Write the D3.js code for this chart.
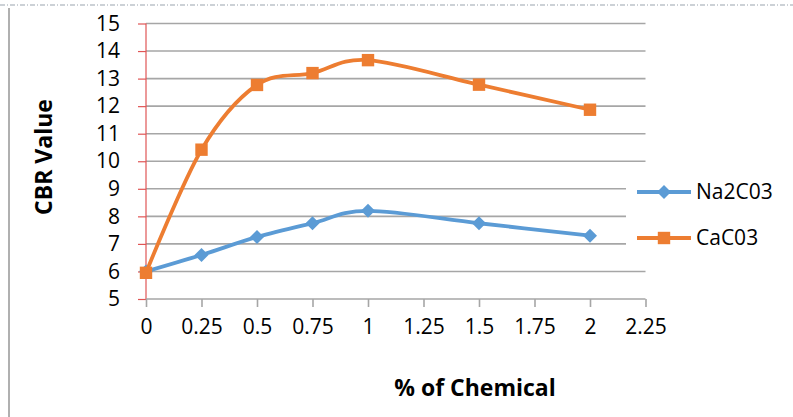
<!DOCTYPE html>
<html><head><meta charset="utf-8">
<script src="https://cdn.jsdelivr.net/npm/d3@7/dist/d3.min.js"></script>
<style>body{margin:0;background:#fff}svg{display:block}</style>
</head><body>
<svg id="c" width="793" height="417"></svg>
<script>
const xValues = [0, 0.25, 0.5, 0.75, 1, 1.5, 2];
const na2co3 = [6, 6.6, 7.25, 7.75, 8.2, 7.75, 7.3];
const caco3 = [5.95, 10.42, 12.77, 13.2, 13.67, 12.78, 11.87];
const seriesNames = ["Na2C03", "CaC03"];
const xTicks = [0, 0.25, 0.5, 0.75, 1, 1.25, 1.5, 1.75, 2, 2.25];
const yTicks = [5, 6, 7, 8, 9, 10, 11, 12, 13, 14, 15];
const xTitle = "% of Chemical";
const yTitle = "CBR Value";

const svg = d3.select("#c");
const font = "'Open Sans', 'Noto Sans', sans-serif";
const x = d3.scaleLinear().domain([0, 2.25]).range([146, 645.5]);
const y = d3.scaleLinear().domain([5, 15]).range([299, 23.5]);

// outer border
svg.append("line").attr("x1", 0).attr("x2", 793).attr("y1", 5).attr("y2", 5)
  .attr("stroke", "#9aa3ad").attr("stroke-width", 1.2).attr("stroke-dasharray", "5,2,1,2");
svg.append("line").attr("x1", 9).attr("x2", 9).attr("y1", 8).attr("y2", 417)
  .attr("stroke", "#b0b0b0").attr("stroke-width", 2);

// gridlines
svg.append("g").selectAll("line").data(yTicks.filter(d => d > 5)).join("line")
  .attr("x1", x(0)).attr("x2", x(2.25))
  .attr("y1", d => y(d)).attr("y2", d => y(d))
  .attr("stroke", "#a6a6a6").attr("stroke-width", 1.6);

// y axis
const ya = svg.append("g").attr("transform", `translate(${x(0)},0)`)
  .call(d3.axisLeft(y).tickValues(yTicks).tickSize(8).tickPadding(18).tickFormat(d3.format("d")));
ya.select(".domain").attr("stroke", "#e05555").attr("stroke-width", 1.2).attr("d", `M0,${y(15)}V${y(5)}`);
ya.selectAll(".tick line").attr("stroke", "#e05555").attr("stroke-width", 1.2);
ya.selectAll(".tick text").attr("font-family", font).attr("font-size", 21).attr("fill", "#000");

// x axis
const xa = svg.append("g").attr("transform", `translate(0,${y(5)})`)
  .call(d3.axisBottom(x).tickValues(xTicks).tickSize(8).tickPadding(12).tickFormat(d => String(d)));
xa.select(".domain").attr("stroke", "#a6a6a6").attr("stroke-width", 1.6).attr("d", `M${x(0)},0H${x(2.25)}`);
xa.selectAll(".tick line").attr("stroke", "#a6a6a6").attr("stroke-width", 1.6);
xa.selectAll(".tick text").attr("font-family", font).attr("font-size", 21).attr("fill", "#000");

// legend background (cuts gridlines)
svg.append("rect").attr("x", 626).attr("y", 172).attr("width", 167).attr("height", 88).attr("fill", "#fff");

const colors = ["#5B9BD5", "#ED7D31"];
const data = [na2co3, caco3];
const line = d3.line().x((d, i) => x(xValues[i])).y(d => y(d)).curve(d3.curveCatmullRom.alpha(0));
const symFor = i => i === 0 ? d3.symbol().type(d3.symbolDiamond2).size(125) : d3.symbol().type(d3.symbolSquare2).size(196);

data.forEach((vals, si) => {
  svg.append("path").datum(vals).attr("d", line).attr("fill", "none")
    .attr("stroke", colors[si]).attr("stroke-width", 3.8).attr("stroke-linejoin", "round");
  svg.append("g").selectAll("path").data(vals).join("path")
    .attr("transform", (d, i) => `translate(${x(xValues[i])},${y(d)})`)
    .attr("d", symFor(si)).attr("fill", colors[si]);
});

// legend
const ly = [192, 238];
seriesNames.forEach((n, i) => {
  const g = svg.append("g");
  g.append("line").attr("x1", 637).attr("x2", 691).attr("y1", ly[i]).attr("y2", ly[i])
    .attr("stroke", colors[i]).attr("stroke-width", 3.8);
  g.append("path").attr("transform", `translate(664,${ly[i]})`).attr("d", symFor(i)).attr("fill", colors[i]);
  g.append("text").attr("x", 696).attr("y", ly[i]).attr("dy", "0.35em")
    .attr("font-family", font).attr("font-size", 21).text(n);
});

// titles
svg.append("text").attr("x", 475).attr("y", 396).attr("text-anchor", "middle")
  .attr("font-family", font).attr("font-weight", "bold").attr("font-size", 23).text(xTitle);
svg.append("text").attr("transform", "translate(52,157) rotate(-90)").attr("text-anchor", "middle")
  .attr("font-family", font).attr("font-weight", "bold").attr("font-size", 23).text(yTitle);
</script>
</body></html>
